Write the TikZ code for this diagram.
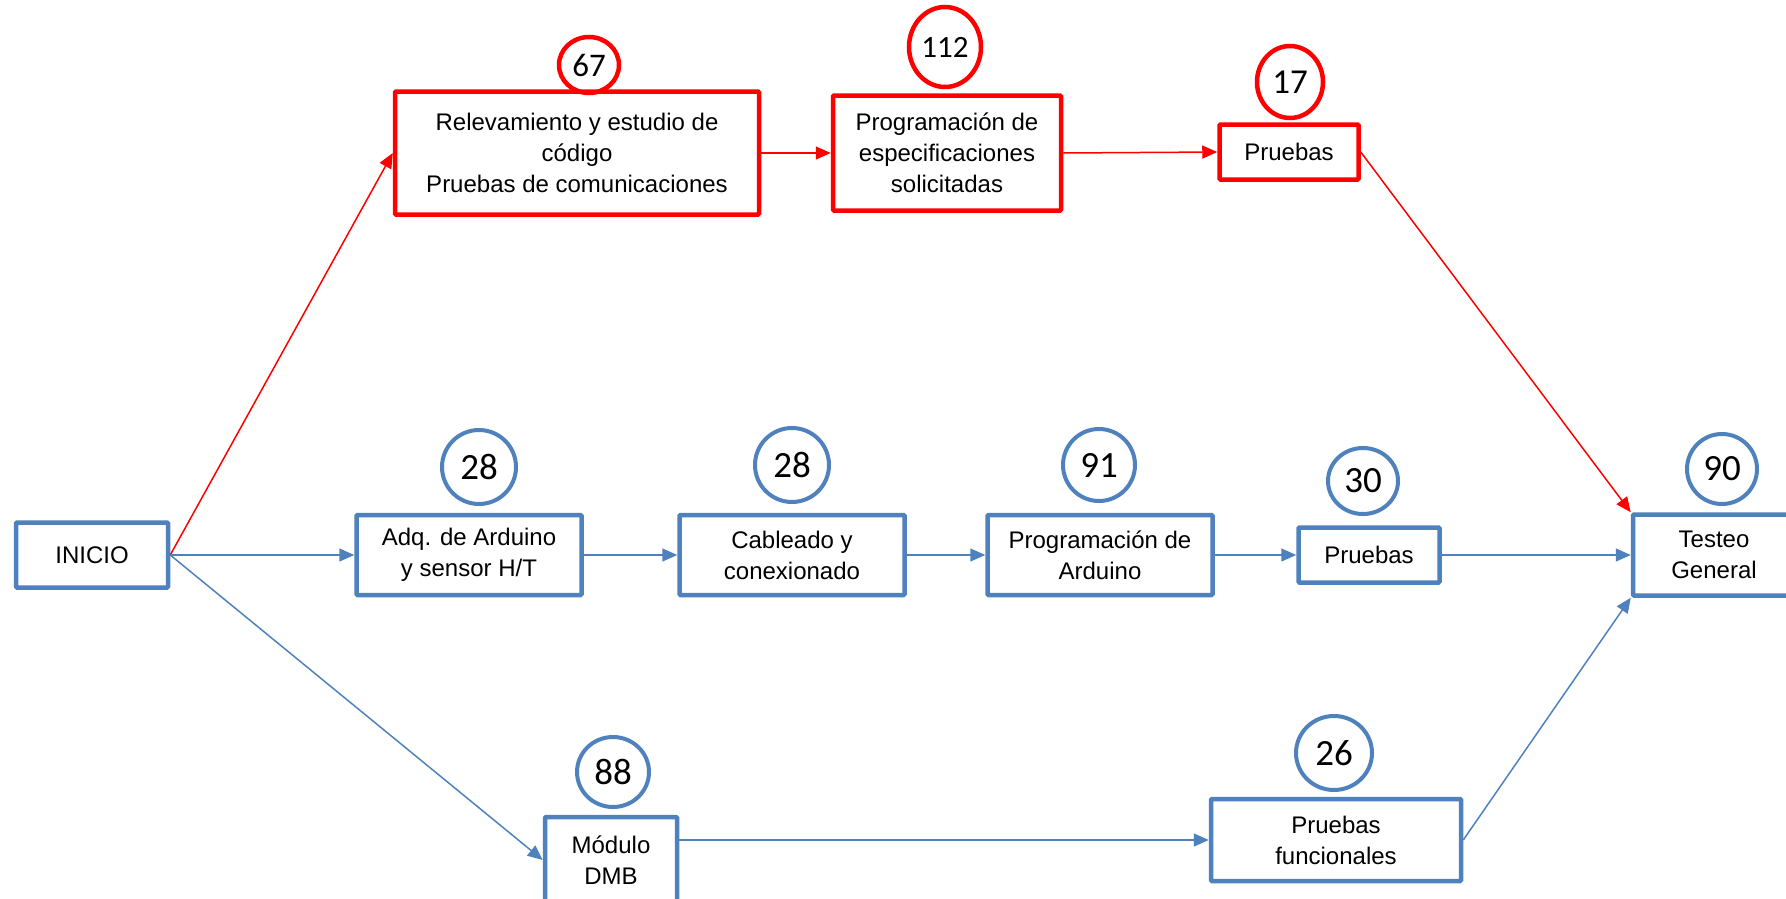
\documentclass[tikz,border=0pt]{standalone}
\usepackage{fontspec}
\setmainfont{Liberation Sans}
\newfontfamily\numfont{Carlito}
\usepackage{xcolor}
\usepackage{tikz}
\usetikzlibrary{positioning,arrows.meta,shapes.geometric}
\definecolor{ofblue}{RGB}{79,129,189}
\definecolor{ofred}{RGB}{255,0,0}
\tikzset{
  redblk/.style  ={draw=ofred, line width=4.5pt, rectangle, rounded corners=1pt, align=center, fill=white, font=\fontsize{24}{31}\selectfont},
  blueblk/.style ={draw=ofblue, line width=4.5pt, rectangle, rounded corners=1pt, align=center, fill=white, font=\fontsize{24}{31}\selectfont},
  redcirc/.style ={draw=ofred, line width=4.5pt, ellipse, inner sep=0pt, font=\numfont\fontsize{33}{33}\selectfont},
  bluecirc/.style={draw=ofblue, line width=4pt, ellipse, inner sep=0pt, font=\numfont\fontsize{37}{37}\selectfont},
  redarr/.style  ={-{Triangle[length=15pt,width=13pt]}, draw=ofred, line width=1.5pt},
  bluearr/.style ={-{Triangle[length=15pt,width=13pt]}, draw=ofblue, line width=1.5pt},
}
\begin{document}
\begin{tikzpicture}[x=1pt,y=-1pt]
    \useasboundingbox (0,0) rectangle (1786,899);
    % tareas
    \node[blueblk, minimum width=152pt, minimum height=65pt]  (ini)   at (92,555)   {INICIO};
    \node[redblk,  minimum width=364pt, minimum height=123pt] (rel)   at (577,153)  {Relevamiento y estudio de\\código\\Pruebas de comunicaciones};
    \node[redblk,  minimum width=228pt, minimum height=115pt] (prog)  at (947,153)  {Programación de\\especificaciones\\solicitadas};
    \node[redblk,  minimum width=139pt, minimum height=55pt]  (pru1)  at (1289,152) {Pruebas};
    \node[blueblk, minimum width=225pt, minimum height=80pt]  (adq)   at (469,555)  {Adq. de Arduino\\y sensor H/T};
    \node[blueblk, minimum width=225pt, minimum height=80pt]  (cab)   at (792,555)  {Cableado y\\conexionado};
    \node[blueblk, minimum width=225pt, minimum height=80pt]  (parq)  at (1100,555) {Programación de\\Arduino};
    \node[blueblk, minimum width=141pt, minimum height=55pt]  (pru2)  at (1369,555) {Pruebas};
    \node[blueblk, minimum width=162pt, minimum height=81pt]  (test)  at (1714,555) {Testeo\\General};
    \node[blueblk, minimum width=132pt, minimum height=86pt]  (mod)   at (611,860)  {Módulo\\DMB};
    \node[blueblk, minimum width=250pt, minimum height=82pt]  (pfun)  at (1336,840) {Pruebas\\funcionales};
    % duraciones
    \node[redcirc,  minimum width=60pt, minimum height=56pt] (d67)  at (589,65)   {67};
    \node[redcirc,  minimum width=72pt, minimum height=80pt, font=\numfont\fontsize{31}{31}\selectfont] (d112) at (945,47) {112};
    \node[redcirc,  minimum width=66pt, minimum height=72pt, font=\numfont\fontsize{35}{35}\selectfont] (d17)  at (1290,82)  {17};
    \node[bluecirc, minimum width=74pt, minimum height=74pt] (d28a) at (479,467)  {28};
    \node[bluecirc, minimum width=74pt, minimum height=74pt] (d28b) at (792,465)  {28};
    \node[bluecirc, minimum width=72pt, minimum height=72pt] (d91)  at (1099,465) {91};
    \node[bluecirc, minimum width=70pt, minimum height=66pt] (d30)  at (1363,481) {30};
    \node[bluecirc, minimum width=70pt, minimum height=70pt] (d90)  at (1722,469) {90};
    \node[bluecirc, minimum width=72pt, minimum height=70pt] (d88)  at (613,772)  {88};
    \node[bluecirc, minimum width=76pt, minimum height=74pt] (d26)  at (1334,753) {26};
    % camino critico
    \draw[redarr] (ini.east) -- (rel.west);
    \draw[redarr] (rel.east) -- (prog.west);
    \draw[redarr] (prog.east) -- (pru1.west);
    \draw[redarr] (pru1.east) -- (test.north west);
    % resto
    \draw[bluearr] (ini.east) -- (adq.west);
    \draw[bluearr] (adq.east) -- (cab.west);
    \draw[bluearr] (cab.east) -- (parq.west);
    \draw[bluearr] (parq.east) -- (pru2.west);
    \draw[bluearr] (pru2.east) -- (test.west);
    \draw[bluearr] (ini.east) -- (mod.west);
    \draw[bluearr] (mod.east |- pfun.west) -- (pfun.west);
    \draw[bluearr] (pfun.east) -- (test.south west);
\end{tikzpicture}
\end{document}
